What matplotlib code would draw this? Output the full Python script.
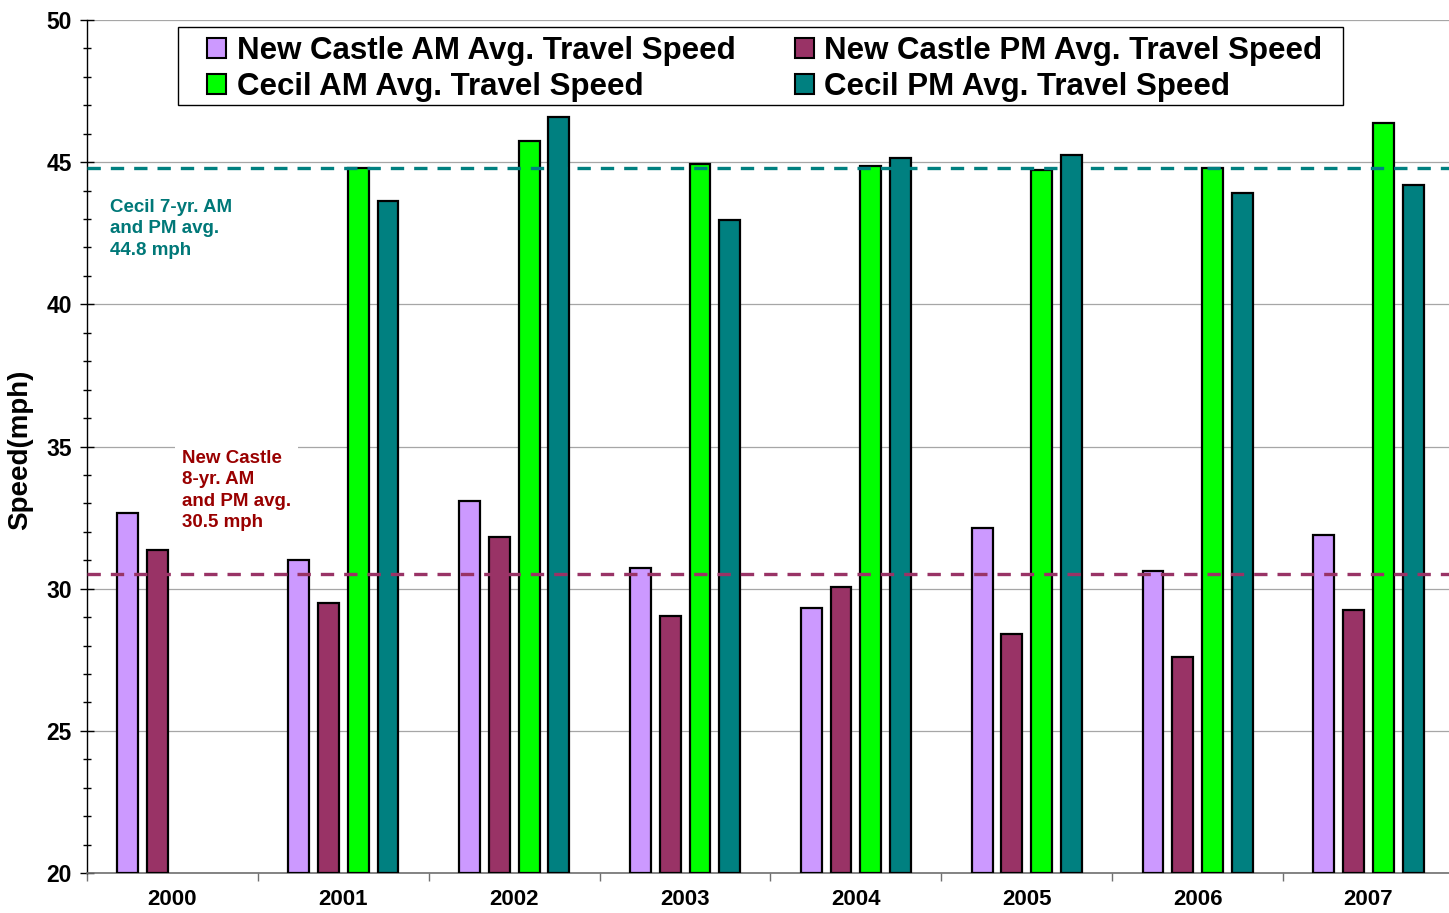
import matplotlib
matplotlib.use("Agg")
import matplotlib.pyplot as plt
import numpy as np
from matplotlib.patches import Patch, Rectangle

plt.rcParams['font.family'] = ['Liberation Sans', 'DejaVu Sans']
plt.rcParams['font.weight'] = 'bold'

years = ['2000', '2001', '2002', '2003', '2004', '2005', '2006', '2007']
nc_am = [32.67, 31.01, 33.08, 30.73, 29.32, 32.13, 30.62, 31.89]
nc_pm = [31.36, 29.51, 31.82, 29.04, 30.06, 28.40, 27.60, 29.25]
cecil_am = [np.nan, 44.80, 45.75, 44.94, 44.87, 44.73, 44.80, 46.37]
cecil_pm = [np.nan, 43.64, 46.60, 42.97, 45.15, 45.26, 43.92, 44.19]

nc_avg = 30.5
cecil_avg = 44.8

series = [
    ('New Castle AM Avg. Travel Speed', nc_am, '#CC99FF'),
    ('New Castle PM Avg. Travel Speed', nc_pm, '#993366'),
    ('Cecil AM Avg. Travel Speed', cecil_am, '#00FF00'),
    ('Cecil PM Avg. Travel Speed', cecil_pm, '#008080'),
]

W, H = 1449, 913
fig = plt.figure(figsize=(W / 100, H / 100), dpi=100)
ax = fig.add_axes([87 / W, 40 / H, (1454 - 87) / W, 853 / H])

x = np.arange(len(years))
pitch = 0.1744
width = 0.122
for i, (name, vals, col) in enumerate(series):
    ax.bar(x + (i - 1.5) * pitch, np.array(vals) - 20, bottom=20, width=width,
           color=col, edgecolor='black', linewidth=1.6, zorder=3)

ax.set_xlim(-0.5, len(years) - 0.5)
ax.set_ylim(20, 50)

# grid and axes styling
ax.set_yticks(np.arange(20, 51, 5))
ax.set_yticks(np.arange(20, 51, 1), minor=True)
ax.yaxis.grid(True, which='major', color='#A6A6A6', linewidth=0.9, zorder=0)
ax.set_axisbelow(True)
ax.spines['top'].set_visible(False)
ax.spines['right'].set_visible(False)
ax.spines['left'].set_color('black')
ax.spines['left'].set_linewidth(1.0)
ax.spines['bottom'].set_color('#707070')
ax.spines['bottom'].set_linewidth(1.2)

ax.tick_params(axis='y', which='major', direction='inout', length=10, width=1,
               labelsize=16.5, pad=6)
ax.tick_params(axis='y', which='minor', direction='inout', length=5.5, width=1)

ax.set_xticks(x)
ax.set_xticklabels(years, fontsize=16, fontweight='bold')
ax.set_xticks(np.arange(-0.5, len(years), 1), minor=True)
ax.tick_params(axis='x', which='major', length=0, pad=11.5)
ax.tick_params(axis='x', which='minor', direction='out', length=5.5, width=1,
               color='#707070')
for lab in ax.get_yticklabels():
    lab.set_fontweight('bold')

# multi-year average lines
ax.axhline(cecil_avg, color='#008080', linewidth=2.4, dashes=(4.0, 3.0), zorder=5)
ax.axhline(nc_avg, color='#993366', linewidth=2.4, dashes=(4.0, 3.0), zorder=5)

fig.text(110 / W, 1 - 199 / H, 'Cecil 7-yr. AM\nand PM avg.\n44.8 mph',
         color='#007878', fontsize=13.5, fontweight='bold', ha='left', va='top',
         linespacing=1.33)
fig.text(182 / W, 1 - 450 / H, 'New Castle\n8-yr. AM\nand PM avg.\n30.5 mph',
         color='#990000', fontsize=13.5, fontweight='bold', ha='left', va='top',
         linespacing=1.33,
         bbox=dict(facecolor='white', edgecolor='none', pad=5))

fig.text(20 / W, 1 - 450 / H, 'Speed(mph)', rotation=90, fontsize=20,
         fontweight='bold', ha='center', va='center')

# legend: frame drawn separately so the padding can differ per side
fig.patches.append(Rectangle((178 / W, 1 - 105 / H), (1343 - 178) / W, 78 / H,
                             transform=fig.transFigure, facecolor='white',
                             edgecolor='black', linewidth=1.0, zorder=6))
handles = [Patch(facecolor=c, edgecolor='black', linewidth=1.5, label=n)
           for n, v, c in series]
order = [0, 2, 1, 3]
leg = fig.legend([handles[i] for i in order], [handles[i].get_label() for i in order],
                 ncol=2, loc='upper left', bbox_to_anchor=(207 / W, 1 - 36 / H),
                 frameon=False, handlelength=0.6, handleheight=0.6,
                 handletextpad=0.35, columnspacing=1.9, labelspacing=0.2,
                 borderpad=0, borderaxespad=0,
                 prop={'weight': 'bold', 'size': 22.5})
leg.set_zorder(7)

fig.savefig('out.png', dpi=100)
